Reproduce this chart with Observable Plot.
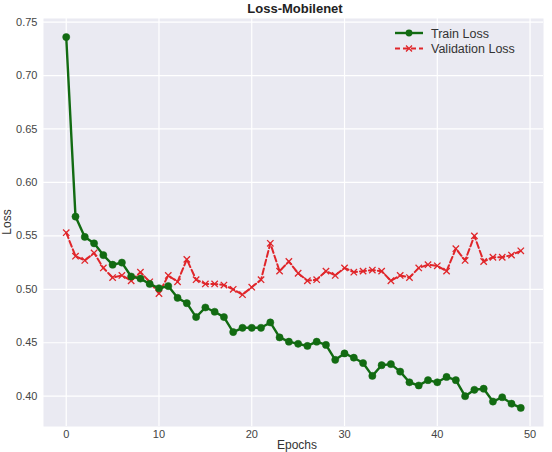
<!DOCTYPE html>
<html>
<head>
<meta charset="utf-8">
<script src="https://cdn.jsdelivr.net/npm/d3@7"></script>
<script src="https://cdn.jsdelivr.net/npm/@observablehq/plot@0.6"></script>
<style>
  html, body { margin: 0; padding: 0; background: #ffffff; }
  #chart { width: 552px; height: 452px; }
  svg { font-family: "Liberation Sans", Arial, sans-serif; }
</style>
</head>
<body>
<div id="chart"></div>
<script>
const title = "Loss-Mobilenet";
const xLabel = "Epochs";
const yLabel = "Loss";
const seriesNames = ["Train Loss", "Validation Loss"];
const xTicks = [0, 10, 20, 30, 40, 50];
const yTicks = [0.40, 0.45, 0.50, 0.55, 0.60, 0.65, 0.70, 0.75];

const trainLoss = [0.736, 0.568, 0.549, 0.543, 0.532, 0.523, 0.525, 0.512, 0.510, 0.505,
  0.501, 0.503, 0.492, 0.487, 0.474, 0.483, 0.479, 0.474, 0.460, 0.464,
  0.464, 0.464, 0.469, 0.455, 0.451, 0.449, 0.447, 0.451, 0.448, 0.434,
  0.440, 0.436, 0.431, 0.419, 0.429, 0.430, 0.423, 0.413, 0.410, 0.415,
  0.413, 0.418, 0.415, 0.400, 0.406, 0.407, 0.395, 0.399, 0.393, 0.389];
const valLoss = [0.553, 0.531, 0.527, 0.534, 0.520, 0.511, 0.513, 0.508, 0.516, 0.507,
  0.496, 0.513, 0.507, 0.528, 0.509, 0.505, 0.505, 0.504, 0.500, 0.495,
  0.502, 0.509, 0.543, 0.517, 0.526, 0.515, 0.508, 0.509, 0.517, 0.513,
  0.520, 0.516, 0.517, 0.518, 0.517, 0.508, 0.513, 0.511, 0.520, 0.523,
  0.522, 0.517, 0.538, 0.527, 0.550, 0.526, 0.530, 0.530, 0.532, 0.536];

const trainColor = "#126b12";
const valColor = "#e0262a";

const train = trainLoss.map((v, i) => ({epoch: i, loss: v}));
const val = valLoss.map((v, i) => ({epoch: i, loss: v}));

const n = trainLoss.length - 1;
const xPad = n * 0.05;
const allVals = trainLoss.concat(valLoss);
const yMin = d3.min(allVals), yMax = d3.max(allVals);
const yPad = (yMax - yMin) * 0.05;

const plot = Plot.plot({
  width: 552,
  height: 452,
  marginLeft: 43,
  marginRight: 9,
  marginTop: 18,
  marginBottom: 26,
  style: {fontFamily: "Liberation Sans, Arial, sans-serif", fontSize: "11px", color: "#444", background: "#ffffff"},
  x: {domain: [-xPad, n + xPad], ticks: xTicks, tickSize: 0, tickPadding: 4, label: null},
  y: {domain: [yMin - yPad, yMax + yPad], ticks: yTicks, tickSize: 0, tickPadding: 6, label: null, tickFormat: d3.format(".2f")},
  marks: [
    Plot.frame({fill: "#eaeaf2", stroke: null}),
    Plot.gridX(xTicks, {stroke: "#ffffff", strokeOpacity: 1, strokeWidth: 1.2}),
    Plot.gridY(yTicks, {stroke: "#ffffff", strokeOpacity: 1, strokeWidth: 1.2}),
    Plot.line(val, {x: "epoch", y: "loss", stroke: valColor, strokeWidth: 2, strokeDasharray: "6,3"}),
    Plot.dot(val, {x: "epoch", y: "loss", symbol: "times", r: 3, stroke: valColor, strokeWidth: 1.3, fill: "none"}),
    Plot.line(train, {x: "epoch", y: "loss", stroke: trainColor, strokeWidth: 2.4}),
    Plot.dot(train, {x: "epoch", y: "loss", r: 3.6, fill: trainColor, stroke: trainColor, strokeWidth: 0.5})
  ]
});

const svg = d3.select(plot);
// Title
svg.append("text").attr("x", 295).attr("y", 13).attr("text-anchor", "middle")
  .attr("font-size", 13).attr("font-weight", "bold").attr("fill", "#222").text(title);
// Axis labels
svg.append("text").attr("x", 297).attr("y", 449).attr("text-anchor", "middle")
  .attr("font-size", 12).attr("fill", "#333").text(xLabel);
svg.append("text").attr("transform", "translate(11,222) rotate(-90)").attr("text-anchor", "middle")
  .attr("font-size", 12).attr("fill", "#333").text(yLabel);

// Legend
const lg = svg.append("g").attr("transform", "translate(395,33)").attr("text-anchor", "start");
const items = [
  {name: seriesNames[0], color: trainColor, dash: null, sym: "dot"},
  {name: seriesNames[1], color: valColor, dash: "5,3", sym: "x"}
];
items.forEach((it, k) => {
  const g = lg.append("g").attr("transform", `translate(0,${k * 15.5})`);
  g.append("line").attr("x1", 0).attr("x2", 28).attr("y1", 0).attr("y2", 0)
    .attr("stroke", it.color).attr("stroke-width", it.sym === "dot" ? 2.4 : 2)
    .attr("stroke-dasharray", it.dash);
  if (it.sym === "dot") {
    g.append("circle").attr("cx", 14).attr("cy", 0).attr("r", 3.4).attr("fill", it.color);
  } else {
    g.append("path").attr("d", "M11,-3L17,3M11,3L17,-3")
      .attr("stroke", it.color).attr("stroke-width", 1.3);
  }
  g.append("text").attr("x", 36).attr("y", 4.5).attr("font-size", 12.5)
    .attr("text-anchor", "start").attr("fill", "#333").text(it.name);
});

document.getElementById("chart").appendChild(plot);
</script>
</body>
</html>
